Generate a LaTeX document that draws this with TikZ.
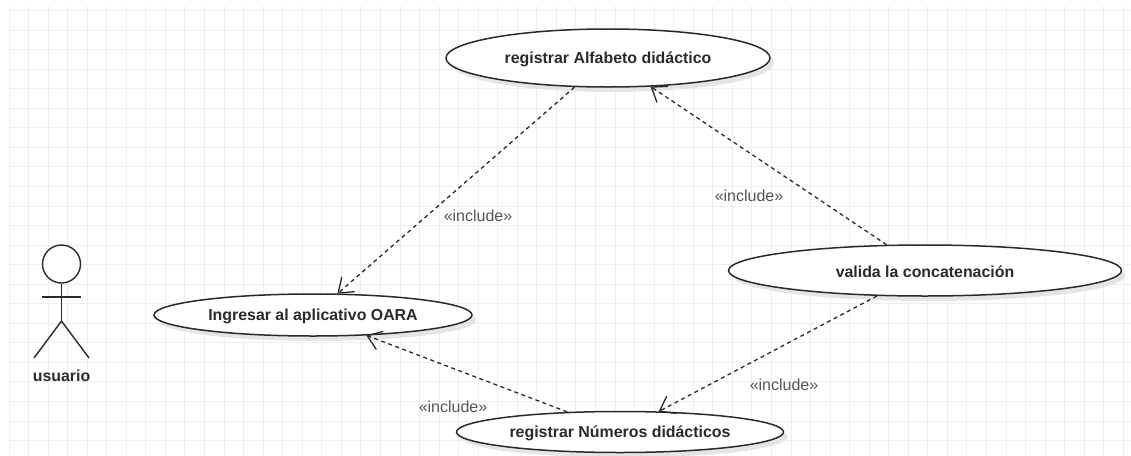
\documentclass[tikz,border=0pt]{standalone}
\usepackage{fontspec}
\setmainfont{Liberation Sans}
\usetikzlibrary{arrows.meta,shapes.geometric,shadows}
\definecolor{gridc}{HTML}{EEEEEE}
\definecolor{inkc}{HTML}{2A2A2A}
\definecolor{lblc}{HTML}{555555}
\newcommand{\lowertxt}[1]{\raisebox{-1pt}[\height][\depth]{#1}}
\tikzset{
  usecase/.style={ellipse,draw=inkc,line width=1.5pt,fill=white,inner sep=0pt,
    font=\bfseries\fontsize{15.9}{18}\selectfont,text=inkc,
    general shadow={fill=black!10,shadow xshift=4pt,shadow yshift=-5pt}},
  dep/.style={draw=inkc,line width=1.3pt,dash pattern=on 4pt off 3.5pt,
    -{Straight Barb[length=13pt,width=19pt,line width=1.3pt,round]}},
  lbl/.style={text=lblc,inner sep=0pt,font=\fontsize{16}{18}\selectfont},
  limb/.style={draw=inkc,line width=1.4pt},
}
\begin{document}
\begin{tikzpicture}[x=1pt,y=-1pt]
\useasboundingbox (0,0) rectangle (1131,455);
\fill[white] (0,0) rectangle (1131,455);
\foreach \k in {0,...,57} {
  \pgfmathsetmacro{\gx}{round(8.5+19.55*\k)+0.5}
  \draw[gridc,line width=1pt] (\gx,6) -- (\gx,455);
}
\foreach \k in {0,...,22} {
  \pgfmathsetmacro{\gy}{round(10+19.55*\k)+0.5}
  \draw[gridc,line width=1pt] (9,\gy) -- (1131,\gy);
}

\node[usecase,minimum width=324pt,minimum height=58pt] (alf) at (608,58) {\lowertxt{registrar Alfabeto didáctico}};
\node[usecase,minimum width=318pt,minimum height=42pt] (ing) at (313,315) {\lowertxt{Ingresar al aplicativo OARA}};
\node[usecase,minimum width=327pt,minimum height=41pt] (num) at (620,432) {\lowertxt{registrar Números didácticos}};
\node[usecase,minimum width=393pt,minimum height=51pt] (val) at (925,270.5) {\lowertxt{valida la concatenación}};

\draw[dep] (alf) -- (ing);
\draw[dep] (num) -- (ing);
\draw[dep] (val) -- (alf);
\draw[dep] (val) -- (num);

\node[lbl] (l1) at (478,216) {«include»};
\node[lbl] (l2) at (749,196) {«include»};
\node[lbl] (l3) at (453,407) {«include»};
\node[lbl] (l4) at (784,385) {«include»};

\node[circle,draw=inkc,line width=1.4pt,fill=white,minimum size=38pt,inner sep=0pt] (head) at (61.5,264) {};
\coordinate (hip) at (61.5,321);
\coordinate (armL) at (42,297);
\coordinate (armR) at (81,297);
\coordinate (footL) at (34,358);
\coordinate (footR) at (89,358);
\draw[limb] (head.south) -- (hip);
\draw[limb] (armL) -- (armR);
\draw[limb] (footL) -- (hip) -- (footR);
\node[inner sep=0pt,text=inkc,font=\bfseries\fontsize{15.9}{18}\selectfont] (usr) at (61.5,376) {usuario};
\end{tikzpicture}
\end{document}
